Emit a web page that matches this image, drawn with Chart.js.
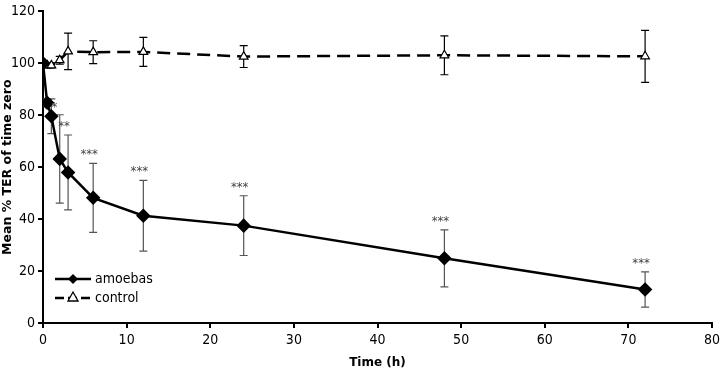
<!DOCTYPE html>
<html>
<head>
<meta charset="utf-8">
<script src="https://cdn.jsdelivr.net/npm/chart.js@4/dist/chart.umd.min.js"></script>
<style>
  html, body { margin: 0; padding: 0; background: #fff; }
</style>
</head>
<body>
<canvas id="ter-chart" width="720" height="374"></canvas>
<script>
// time points (h)
const times = [0, 0.5, 1, 2, 3, 6, 12, 24, 48, 72];
// mean % TER of time zero
const amoebas = [100, 84.8, 79.6, 63.2, 58, 48.2, 41.3, 37.5, 24.9, 12.9];
const amoebasErr = [0, 1.5, 6.7, 17, 14.4, 13.3, 13.6, 11.5, 11, 6.8];
const control = [100, 99.2, 99.2, 101.2, 104.6, 104.3, 104.4, 102.6, 103.1, 102.7];
const controlErr = [0, 1, 1, 1.5, 7, 4.4, 5.6, 4.2, 7.5, 10];
// significance marks for amoebas
const stars = ["", "", "*", "", "**", "***", "***", "***", "***", "***"];
const yTicks = [0, 20, 40, 60, 80, 100, 120];
const xTicks = [0, 10, 20, 30, 40, 50, 60, 70, 80];

const font = "'Liberation Sans Narrow', 'DejaVu Sans Condensed', 'Liberation Sans', sans-serif";

function toPoints(ys) {
    return times.map((t, i) => ({ x: t, y: ys[i] }));
}

// error bars + stars + inside legend
const extras = {
    id: "extras",
    beforeDatasetsDraw(chart) {
        const ctx = chart.ctx;
        const xs = chart.scales.x, ys = chart.scales.y;
        const bars = [[amoebas, amoebasErr, "#555"], [control, controlErr, "#000"]];
        ctx.save();
        ctx.lineWidth = 1.2;
        bars.forEach(([vals, errs, col]) => {
            ctx.strokeStyle = col;
            times.forEach((t, i) => {
                if (!errs[i]) return;
                const px = xs.getPixelForValue(t);
                const top = ys.getPixelForValue(vals[i] + errs[i]);
                const bot = ys.getPixelForValue(vals[i] - errs[i]);
                ctx.beginPath();
                ctx.moveTo(px, top); ctx.lineTo(px, bot);
                ctx.moveTo(px - 4, top); ctx.lineTo(px + 4, top);
                ctx.moveTo(px - 4, bot); ctx.lineTo(px + 4, bot);
                ctx.stroke();
            });
        });
        ctx.restore();
    },
    afterDatasetsDraw(chart) {
        const ctx = chart.ctx;
        const xs = chart.scales.x, ys = chart.scales.y;
        ctx.save();
        ctx.fillStyle = "#444";
        ctx.font = "13px " + font;
        ctx.textAlign = "center";
        ctx.textBaseline = "bottom";
        times.forEach((t, i) => {
            if (!stars[i]) return;
            const px = xs.getPixelForValue(t);
            const top = ys.getPixelForValue(amoebas[i] + amoebasErr[i]);
            if (stars[i].length === 1) {
                // lone star sits beside the bar
                ctx.fillText(stars[i], px + 3, top + 15);
            } else {
                ctx.fillText(stars[i], px - 4, top - 2);
            }
        });

        // legend
        const lx = 55, items = [
            { label: "amoebas", y: 279, dash: [] },
            { label: "control", y: 298, dash: [9, 4] }
        ];
        ctx.textAlign = "left";
        ctx.textBaseline = "middle";
        ctx.font = "14px " + font;
        items.forEach((it, k) => {
            ctx.strokeStyle = "#000";
            ctx.lineWidth = 2.5;
            ctx.setLineDash(it.dash);
            ctx.beginPath();
            ctx.moveTo(lx, it.y); ctx.lineTo(lx + 36, it.y);
            ctx.stroke();
            ctx.setLineDash([]);
            const mx = lx + 18;
            ctx.beginPath();
            if (k === 0) {
                ctx.fillStyle = "#000";
                ctx.moveTo(mx, it.y - 5); ctx.lineTo(mx + 5, it.y);
                ctx.lineTo(mx, it.y + 5); ctx.lineTo(mx - 5, it.y);
                ctx.closePath(); ctx.fill();
            } else {
                ctx.fillStyle = "#fff";
                ctx.lineWidth = 1.3;
                ctx.moveTo(mx, it.y - 6); ctx.lineTo(mx + 5, it.y + 3);
                ctx.lineTo(mx - 5, it.y + 3); ctx.closePath();
                ctx.fill(); ctx.stroke();
            }
            ctx.fillStyle = "#000";
            ctx.fillText(it.label, lx + 40, it.y);
        });
        ctx.restore();
    }
};

const terChart = new Chart(document.getElementById("ter-chart"), {
    type: "scatter",
    data: {
        datasets: [{
            label: "amoebas",
            data: toPoints(amoebas),
            showLine: true,
            borderColor: "#000",
            borderWidth: 2.5,
            pointStyle: "rectRot",
            pointRadius: 5.5,
            backgroundColor: "#000",
            pointBorderColor: "#000"
        }, {
            label: "control",
            data: toPoints(control),
            showLine: true,
            borderColor: "#000",
            borderWidth: 2.5,
            borderDash: [13, 7],
            pointStyle: "triangle",
            pointRadius: 5,
            pointBorderWidth: 1.2,
            pointBackgroundColor: "#fff",
            pointBorderColor: "#000"
        }]
    },
    options: {
        responsive: false,
        animation: false,
        layout: { padding: { top: 6, right: 0, left: 0, bottom: 0 } },
        plugins: { legend: { display: false }, tooltip: { enabled: false } },
        scales: {
            x: {
                type: "linear",
                min: 0, max: 80,
                afterBuildTicks: s => { s.ticks = xTicks.map(v => ({ value: v })); },
                afterFit: s => { s.height = 51; s.paddingRight = 7; },
                grid: { drawOnChartArea: false, drawTicks: true, tickLength: 5, color: "#000", lineWidth: 2 },
                border: { color: "#000", width: 2 },
                ticks: { color: "#000", font: { family: font, size: 14 }, padding: 4 },
                title: { display: true, text: "Time (h)", color: "#000",
                         font: { family: "'DejaVu Sans', sans-serif", size: 12, weight: "bold" }, padding: { top: 6 } }
            },
            y: {
                min: 0, max: 120,
                afterBuildTicks: s => { s.ticks = yTicks.map(v => ({ value: v })); },
                afterFit: s => { s.width = 43; },
                grid: { drawOnChartArea: false, drawTicks: true, tickLength: 5, color: "#000", lineWidth: 2 },
                border: { color: "#000", width: 2 },
                ticks: { color: "#000", font: { family: font, size: 14 }, padding: 3 },
                title: { display: true, text: "Mean % TER of time zero", color: "#000",
                         font: { family: "'DejaVu Sans', sans-serif", size: 12.5, weight: "bold" }, padding: 0 }
            }
        }
    },
    plugins: [extras]
});
</script>
</body>
</html>
